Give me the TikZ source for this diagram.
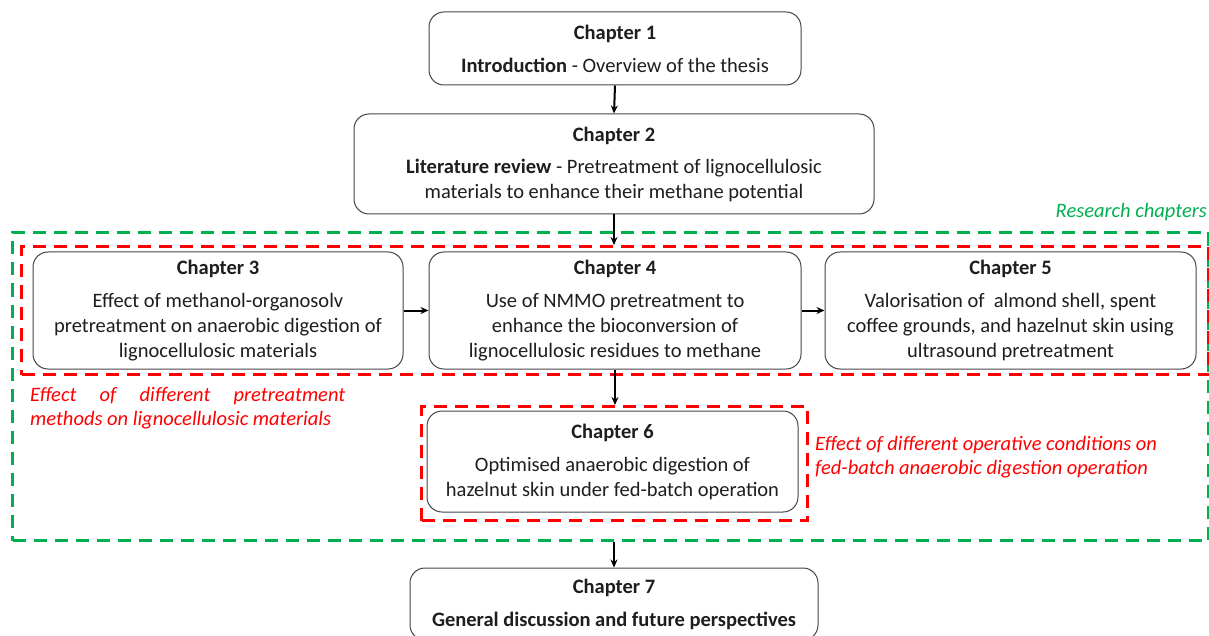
\documentclass[tikz,border=0pt]{standalone}
\usepackage{fontspec}
\setmainfont{Carlito}
\usetikzlibrary{arrows.meta}
\begin{document}
\begin{tikzpicture}[x=1pt,y=-1pt,
  chapbox/.style={draw=custcol_gray, line width=1.0pt, rounded corners=15pt, fill=white,
    align=center, inner sep=0, font=\fontsize{20.5pt}{25pt}\selectfont, text=custcol_text},
  grpbox/.style={dash pattern=on 13pt off 8pt, line width=3.0pt, inner sep=0},
  flow/.style={-{Stealth[length=8pt,width=7pt]}, line width=2.0pt, custcol_0_0_0},
  note/.style={inner sep=0, font=\fontsize{20.5pt}{24pt}\selectfont\itshape}]
\definecolor{custcol_0_0_0}{RGB}{0, 0, 0}
\definecolor{custcol_text}{RGB}{30, 30, 30}
\definecolor{custcol_gray}{RGB}{70, 70, 70}
\definecolor{custcol_red}{RGB}{255, 0, 0}
\definecolor{custcol_green}{RGB}{0, 176, 80}
\useasboundingbox (0,0) rectangle (1209,636);
% group frames
\node[grpbox, draw=custcol_green, minimum width=1196pt, minimum height=308pt, anchor=north west] (resgrp) at (11.0,231.0) {};
\node[grpbox, draw=custcol_red, minimum width=1187pt, minimum height=128pt, anchor=north west] (pregrp) at (20.0,245.0) {};
\node[grpbox, draw=custcol_red, minimum width=386pt, minimum height=114pt, anchor=north west] (opgrp) at (420.0,405.0) {};
% chapters
\node[chapbox, minimum width=372pt, minimum height=73pt] (ch1) at (615.0,48.5) {\textbf{Chapter 1}\\[8pt]\textbf{Introduction} - Overview of the thesis};
\node[chapbox, minimum width=520pt, minimum height=100pt] (ch2) at (614.0,164.0) {\textbf{Chapter 2}\\[7pt]\textbf{Literature review} - Pretreatment of lignocellulosic\\materials to enhance their methane potential};
\node[chapbox, minimum width=370pt, minimum height=117pt] (ch3) at (218.0,310.5) {\textbf{Chapter 3}\\[8pt]Effect of methanol-organosolv\\pretreatment on anaerobic digestion of\\lignocellulosic materials};
\node[chapbox, minimum width=372pt, minimum height=117pt] (ch4) at (615.0,310.5) {\textbf{Chapter 4}\\[8pt]Use of NMMO pretreatment to\\enhance the bioconversion of\\lignocellulosic residues to methane};
\node[chapbox, minimum width=371pt, minimum height=117pt] (ch5) at (1010.5,310.5) {\textbf{Chapter 5}\\[8pt]Valorisation of\ \ almond shell, spent\\coffee grounds, and hazelnut skin using\\ultrasound pretreatment};
\node[chapbox, minimum width=371pt, minimum height=101pt] (ch6) at (612.5,461.5) {\textbf{Chapter 6}\\[8pt]Optimised anaerobic digestion of\\hazelnut skin under fed-batch operation};
\node[chapbox, minimum width=408pt, minimum height=72pt] (ch7) at (614.0,604.0) {\textbf{Chapter 7}\\[8pt]\textbf{General discussion and future perspectives}};
% labels
\node[note, text=custcol_green, anchor=base east] (reslbl) at (1207.0,218.0) {Research chapters};
\node[note, text=custcol_red, anchor=north west, align=left] (prelbl) at (30.0,387.0) {\makebox[315pt][s]{Effect of different pretreatment}\\methods on lignocellulosic materials};
\node[note, text=custcol_red, anchor=north west, align=left] (oplbl) at (815.0,436.0) {Effect of different operative conditions on\\fed-batch anaerobic digestion operation};
% connectors
\draw[flow] (ch1.south) -- (ch2.north);
\draw[flow] (ch2.south) -- (ch2.south |- pregrp.north);
\draw[flow] (ch3.east) -- (ch4.west);
\draw[flow] (ch4.east) -- (ch5.west);
\draw[flow] (ch4.south) -- (ch4.south |- opgrp.north);
\draw[flow] (ch7.north |- resgrp.south) -- (ch7.north);
\end{tikzpicture}
\end{document}
